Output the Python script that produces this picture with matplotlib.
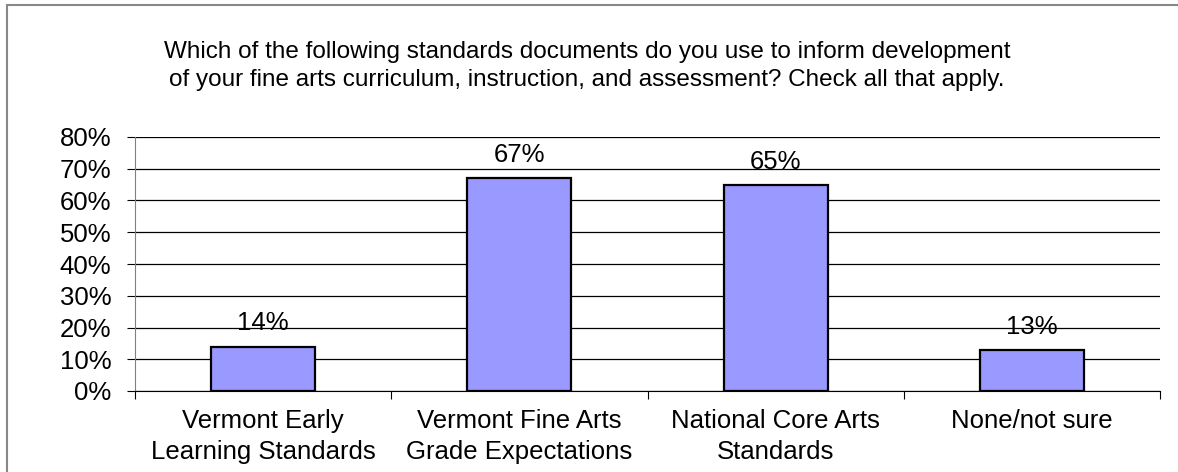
import matplotlib.pyplot as plt
from matplotlib.patches import Rectangle
from matplotlib.ticker import MultipleLocator, FuncFormatter

plt.rcParams['font.family'] = ['Liberation Sans', 'DejaVu Sans']

categorias = ["Vermont Early\nLearning Standards", "Vermont Fine Arts\nGrade Expectations",
              "National Core Arts\nStandards", "None/not sure"]
valores = [14, 67, 65, 13]
titulo = ("Which of the following standards documents do you use to inform development\n"
          "of your fine arts curriculum, instruction, and assessment? Check all that apply.")

W, H = 1178, 472
fig = plt.figure(figsize=(W / 100, H / 100), dpi=100)

# marco gris de la figura
fig.patches.append(Rectangle((7 / W, -0.1), 1.2, 1 - 5 / H + 0.1, transform=fig.transFigure,
                             fill=False, edgecolor="#888888", linewidth=1.5))

ax = fig.add_axes([135 / W, 1 - 391 / H, (1160 - 135) / W, (391 - 137) / H])
x = list(range(len(categorias)))
ax.bar(x, valores, width=0.406, color="#9999FF", edgecolor="black", linewidth=1.6, zorder=3)
for xi, v in zip(x, valores):
    ax.annotate(f"{v}%", (xi, v), xytext=(0, 8), textcoords="offset points",
                ha="center", va="bottom", fontsize=18.5, zorder=4)

ax.set_xlim(-0.5, len(categorias) - 0.5)
ax.set_ylim(0, 80)
ax.yaxis.set_major_locator(MultipleLocator(10))
ax.yaxis.set_major_formatter(FuncFormatter(lambda v, p: f"{v:.0f}%"))
ax.grid(axis="y", color="black", linewidth=0.9, zorder=0)

ax.set_xticks([i - 0.5 for i in range(len(categorias) + 1)])
ax.set_xticklabels([])
ax.set_xticks(x, minor=True)
ax.set_xticklabels(categorias, minor=True, fontsize=18.5, linespacing=1.35)
ax.tick_params(axis="x", which="major", length=6, direction="out", color="black")
ax.tick_params(axis="x", which="minor", length=0, pad=13)
ax.tick_params(axis="y", length=6, labelsize=18.5, pad=11)

ax.spines["top"].set_visible(False)
ax.spines["right"].set_visible(False)
ax.spines["left"].set_color("#808080")
ax.spines["bottom"].set_color("black")

fig.text(0.5 - 2 / W, 1 - 66 / H, titulo, ha="center", va="center", fontsize=17.5, linespacing=1.35)

plt.savefig("out.png", dpi=100)
